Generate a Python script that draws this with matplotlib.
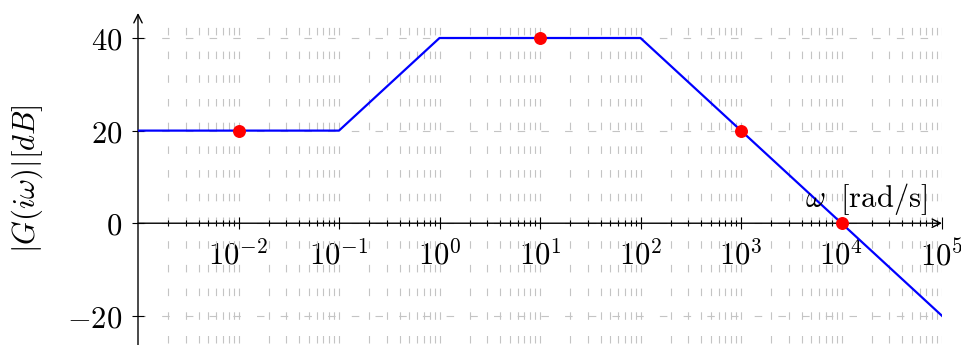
import numpy as np
import matplotlib
matplotlib.use('Agg')
import matplotlib.pyplot as plt
from matplotlib.ticker import LogLocator, NullFormatter

# asymptotic Bode magnitude (break points)
omega_pts = [1e-3, 1e-1, 1e0, 1e2, 1e5]
gain_db = [20, 20, 40, 40, -20]

# highlighted points
omega_marks = [1e-2, 1e1, 1e3, 1e4]
gain_marks = [20, 40, 20, 0]

xtick_vals = [1e-2, 1e-1, 1e0, 1e1, 1e2, 1e3, 1e4, 1e5]
xtick_labels = [r'$10^{-2}$', r'$10^{-1}$', r'$10^{0}$', r'$10^{1}$',
                r'$10^{2}$', r'$10^{3}$', r'$10^{4}$', r'$10^{5}$']
ytick_vals = [-20, 0, 20, 40]
ytick_labels = [r'$-20$', r'$0$', r'$20$', r'$40$']

plt.rcParams['mathtext.fontset'] = 'cm'
plt.rcParams['lines.scale_dashes'] = False

px = 72 / 100  # pixels -> points
fs = 22

fig = plt.figure(figsize=(9.62, 3.45), dpi=100)
ax = fig.add_axes([138 / 962, 0, 804 / 962, 332 / 345])

ax.set_xscale('log')
ax.set_xlim(1e-3, 1e5)
ax.set_ylim(-26.3, 45.4)

ax.plot(omega_pts, gain_db, color='blue', lw=1.6, zorder=4)
ax.plot(omega_marks, gain_marks, 'o', color='red', ms=8.3, zorder=5)

# grid, dashed like pgfplots
on, off = 7.5 * px, 16.2 * px
gcol = '#c4c4c4'
ax.xaxis.grid(True, which='both', color=gcol, lw=0.8,
              linestyle=(on + off - 2 * px, (on, off)))
ax.yaxis.grid(True, which='major', color=gcol, lw=0.8,
              linestyle=(0, (on, off)))

ax.xaxis.set_minor_locator(LogLocator(base=10, subs=np.arange(2, 10), numticks=50))
ax.xaxis.set_minor_formatter(NullFormatter())
ax.set_xticks(xtick_vals)
ax.set_xticklabels(xtick_labels)
ax.set_yticks(ytick_vals)
ax.set_yticklabels(ytick_labels)

ax.tick_params(which='major', direction='inout', length=8.6, width=0.8, pad=7,
               labelsize=fs)
ax.tick_params(which='minor', direction='inout', length=4.3, width=0.8)
ax.tick_params(axis='y', which='minor', left=False)

# middle axis lines with arrows
for s in ['top', 'right']:
    ax.spines[s].set_visible(False)
ax.spines['bottom'].set_position(('data', 0))
ax.spines['bottom'].set_visible(False)
ax.spines['left'].set_visible(False)
arrow = dict(arrowstyle='->,head_length=0.6,head_width=0.3', lw=1.0,
             color='black', shrinkA=0, shrinkB=0, mutation_scale=10)
ax.annotate('', xy=(1, 0), xytext=(0, 0), xycoords=ax.get_yaxis_transform(),
            arrowprops=arrow, annotation_clip=False, zorder=3)
ax.annotate('', xy=(0, 1), xytext=(0, -0.05), xycoords=ax.transAxes,
            arrowprops=arrow, annotation_clip=False, zorder=3)

ax.annotate(r'$\omega\ \;[\mathrm{rad/s}]$', xy=(1, 0), xycoords=ax.get_yaxis_transform(),
            xytext=(-15, 16), textcoords='offset pixels', ha='right', va='baseline',
            fontsize=fs, zorder=6)

ax.set_ylabel(r'$|G(i\omega)|[dB]$', fontsize=fs)
ax.yaxis.set_label_coords((45 - 138) / 804, 0.5)

fig.savefig('out.png', dpi=100)
